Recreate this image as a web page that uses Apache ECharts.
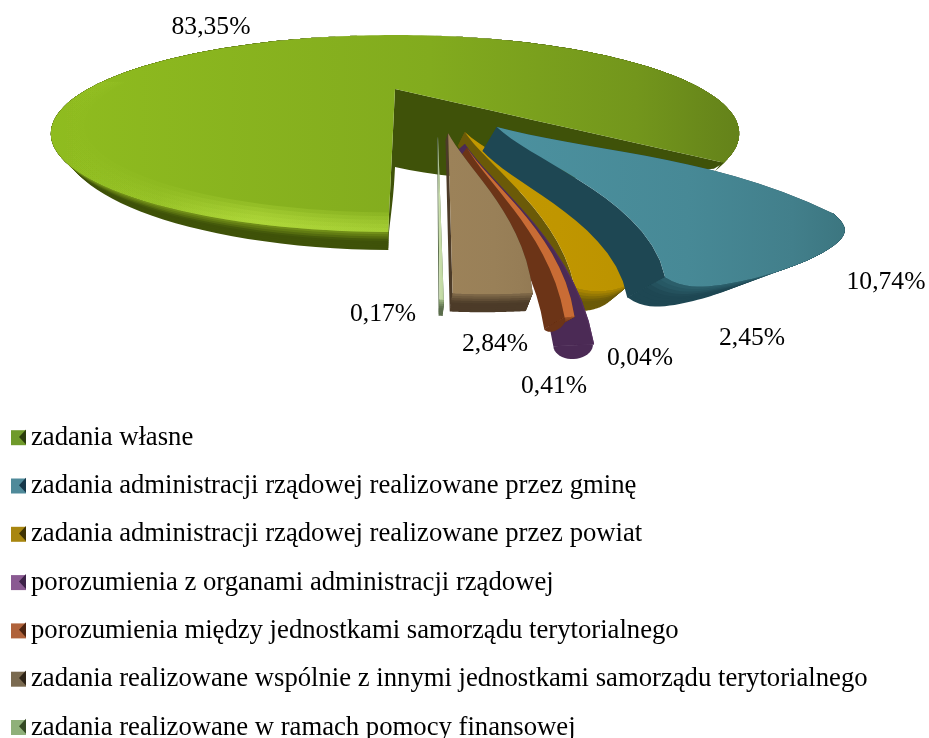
<!DOCTYPE html>
<html>
<head>
<meta charset="utf-8">
<style>
  html, body { margin: 0; background: #fff; }
  #chart { width: 929px; height: 738px; }
</style>
<script src="https://cdn.jsdelivr.net/npm/echarts@6/dist/echarts.min.js"></script>
</head>
<body>
<div id="chart"></div>
<script>
const categories = [
  "zadania własne",
  "zadania administracji rządowej realizowane przez gminę",
  "zadania administracji rządowej realizowane przez powiat",
  "porozumienia z organami administracji rządowej",
  "porozumienia między jednostkami samorządu terytorialnego",
  "zadania realizowane wspólnie z innymi jednostkami samorządu terytorialnego",
  "zadania realizowane w ramach pomocy finansowej"
];
const values = [83.35, 10.74, 2.45, 0.04, 0.41, 2.84, 0.17];

// wygląd plasterków (wolno zmieniać, dane są wyżej)
const faceLeft = ["#8fbc1f", "#4c919f", "#c29800", "#55305f", "#c96c35", "#9c8259", "#cbe0ac"];
const faceRight = ["#64821a", "#3c7680", "#bb9200", "#55305f", "#c96c35", "#937a54", "#b6cf98"];
const wallColors = ["#3f5209", "#1e4753", "#6b5a08", "#4b2a55", "#6c3417", "#4c3b28", "#5b6d4c"];
const rimTop = ["#7f9f1c", "#2f6571", "#b89000", "#4b2a55", "#a8582a", "#8a7350", "#a9c28c"];
const legendFace = ["#6f9a2a", "#4f8a9a", "#a8860f", "#8a5a92", "#b0623a", "#7a6a50", "#8fb07a"];
const legendDark = ["#2b3d0c", "#16384a", "#3f3304", "#3d2248", "#4d2410", "#2e2418", "#344a24"];

// przesunięcie plasterka, promień, grubość, pochylenie ścian, zaokrąglenie rogów
const sliceShape = [
  { ox: 0, oy: 0, r: 1, h0: 78, h1: 6, rim: 18, lean: 0.03, round: 0, endTurn: 0, bow: 0, capK: 0 },
  { ox: 0.272, oy: 0.397, r: 0.81, h0: 24, h1: 20, rim: 20, lean: 0.14, round: 0.05, endTurn: -4, bow: 11, capK: 0 },
  { ox: 0.182, oy: 0.44, r: 0.77, h0: 14, h1: 20, rim: 20, lean: 0.1, round: 0.03, endTurn: 0, bow: 8, capK: 0 },
  { ox: 0.173, oy: 0.532, r: 0.79, h0: 12, h1: 2, rim: 2, lean: 0.2, round: 0, endTurn: 0, bow: 8, capK: 0.7 },
  { ox: 0.175, oy: 0.56, r: 0.7, h0: 12, h1: 12, rim: 12, lean: 0.12, round: 0, endTurn: 0, bow: 8, capK: 0.6 },
  { ox: 0.138, oy: 0.449, r: 0.75, h0: 8, h1: 18, rim: 18, lean: 0.05, round: 0, endTurn: -1, bow: 8, capK: 0 },
  { ox: 0.11, oy: 0.475, r: 0.74, h0: 4, h1: 16, rim: 16, lean: 0.02, round: 0, endTurn: 0, bow: 8, capK: 0 }
];
const labelPos = [[211, 27], [886, 282], [752, 338], [640, 358], [554, 386], [495, 344], [383, 314]];
const drawOrder = [0, 2, 1, 3, 4, 5, 6];

const cx = 395, cy = 89, rx = 307, ry = 78.4, persp = 0.452;
const startAngle = -0.7;
const wedgeScale = 0.8, wedgeShift = -2.9, mainScale = 1.035;
const legendTop = 437, legendStep = 48.2;

const rad = d => d * Math.PI / 180;

function project(u, v) {
  const d = 1 - persp * v;
  return [cx + rx * u / d, cy + ry * v / d];
}

function lerpColor(a, b, t) {
  const pa = parseInt(a.slice(1), 16), pb = parseInt(b.slice(1), 16);
  const c = s => Math.round(((pa >> s) & 255) * (1 - t) + ((pb >> s) & 255) * t);
  return "rgb(" + c(16) + "," + c(8) + "," + c(0) + ")";
}

function sliceAngles(i) {
  let before = 0;
  for (let k = 0; k < i; k++) before += values[k];
  const a = before * 3.6, b = (before + values[i]) * 3.6;
  if (i === 0) return [startAngle - a * mainScale, startAngle - b * mainScale];
  const warp = x => (360 + startAngle - x) * wedgeScale + wedgeShift;
  return [warp(a), warp(b) + sliceShape[i].endTurn];
}

function point(i, f, th) {
  const s = sliceShape[i];
  const shape = Math.max(0, Math.min(1, th / 12));
  const ang = th + s.bow * 4 * f * (1 - f) * shape;
  return project(s.ox + s.r * f * Math.sin(rad(ang)), s.oy + s.r * f * Math.cos(rad(ang)));
}

function dropEdge(i, p, f) {
  const s = sliceShape[i];
  return [p[0] + (cx - p[0]) * s.lean, p[1] + s.h0 + (s.h1 - s.h0) * f * f];
}

function dropArc(i, p, h, t) {
  return [p[0] + (cx - p[0]) * sliceShape[i].lean * t, p[1] + h * t];
}

function makeSlice(i) {
  const [thA, thB] = sliceAngles(i);
  const s = sliceShape[i];
  const children = [];
  const nArc = i === 0 ? 160 : 48;
  const nEdge = 16;
  // łuk lekko cofnięty przy końcach, żeby rogi były zaokrąglone
  const arcF = th => 1 - s.round * (Math.exp(-Math.abs(th - thA) / 2) + Math.exp(-Math.abs(th - thB) / 2));
  const edge = th => {
    const top = [], bottom = [];
    for (let k = 0; k <= nEdge; k++) {
      const f = k / nEdge * arcF(th);
      const p = point(i, f, th);
      top.push(p);
      bottom.unshift(dropEdge(i, p, f));
    }
    return top.concat(bottom);
  };
  children.push({ type: "polygon", shape: { points: edge(thA) }, style: { fill: wallColors[i] } });
  children.push({ type: "polygon", shape: { points: edge(thB) }, style: { fill: wallColors[i] } });

  // ściana wzdłuż łuku, od jasnego do ciemnego
  const arc = [], arcH = [];
  for (let k = 0; k <= nArc; k++) {
    const th = thA + (thB - thA) * k / nArc;
    arc.push(point(i, arcF(th), th));
    // duży plaster: z boku i z tyłu ściany prawie nie widać
    arcH.push(i === 0 ? s.rim * Math.pow(Math.max(0, Math.cos(rad(th))), 1.5) : s.rim);
  }
  const strips = 8;
  for (let n = strips - 1; n >= 0; n--) {
    const t1 = (n + 1) / strips;
    // każdy pasek sięga aż do łuku, kolejne przykrywają poprzednie
    const pts = arc.concat(arc.map((p, k) => dropArc(i, p, arcH[k], t1)).reverse());
    children.push({
      type: "polygon",
      shape: { points: pts },
      style: { fill: lerpColor(rimTop[i], wallColors[i], Math.min(1, t1 * 1.8)) }
    });
  }

  // zaokrąglony koniec wąskich plasterków
  if (s.capK) {
    const a = arc[nArc], b = dropArc(i, a, arcH[nArc], 1);
    const mx = (a[0] + b[0]) / 2, my = (a[1] + b[1]) / 2;
    const ax = a[0] - mx, ay = a[1] - my;
    const pts = [];
    for (let k = 0; k <= 20; k++) {
      const q = Math.PI * k / 20;
      pts.push([mx + ax * Math.cos(q) - ay * s.capK * Math.sin(q), my + ay * Math.cos(q) + ax * s.capK * Math.sin(q)]);
    }
    children.push({ type: "polygon", shape: { points: pts }, style: { fill: wallColors[i] } });
  }

  // wierzch
  const face = [];
  for (let k = 0; k <= nEdge; k++) face.push(point(i, k / nEdge * arcF(thA), thA));
  face.push(...arc);
  for (let k = nEdge; k >= 0; k--) face.push(point(i, k / nEdge * arcF(thB), thB));
  children.push({
    type: "polygon",
    shape: { points: face },
    style: {
      fill: new echarts.graphic.LinearGradient(0, 0, 1, 0, [
        { offset: 0, color: faceLeft[i] },
        { offset: 0.55, color: lerpColor(faceLeft[i], faceRight[i], 0.3) },
        { offset: 0.85, color: lerpColor(faceLeft[i], faceRight[i], 0.65) },
        { offset: 1, color: faceRight[i] }
      ])
    }
  });

  // jasna krawędź z przodu dużego plastra
  if (i === 0) {
    for (let band = 0; band < 5; band++) {
      const f0 = 0.92 + band * 0.016;
      const alpha = 0.25;
      const pts = [];
      for (let k = 0; k <= 60; k++) pts.push(point(i, 1, thA - 95 * k / 60));
      for (let k = 60; k >= 0; k--) pts.push(point(i, f0, thA - 95 * k / 60));
      const glow = a => "rgba(184,224,64," + a + ")";
      children.push({
        type: "polygon",
        shape: { points: pts },
        style: {
          fill: new echarts.graphic.LinearGradient(60, 0, 390, 0, [
            { offset: 0, color: glow(0) },
            { offset: 0.3, color: glow(alpha * 0.25) },
            { offset: 0.6, color: glow(alpha) },
            { offset: 1, color: glow(alpha * 0.7) }
          ], true)
        }
      });
    }
  }

  children.push({
    type: "text",
    style: {
      text: values[i].toFixed(2).replace(".", ",") + "%",
      x: labelPos[i][0],
      y: labelPos[i][1],
      fill: "#000",
      font: '25.6px "Liberation Serif"',
      textAlign: "center",
      textVerticalAlign: "middle"
    }
  });
  return { type: "group", children };
}

const chart = echarts.init(document.getElementById("chart"));

const option = {
  animation: false,
  backgroundColor: "#fff",
  legend: {
    orient: "vertical",
    left: 6,
    top: legendTop - 17.8,
    height: 400,
    itemWidth: 15,
    itemHeight: 15,
    itemGap: 21.3,
    icon: "rect",
    selectedMode: false,
    textStyle: { fontFamily: "Liberation Serif", fontSize: 26.7, color: "#000", lineHeight: 24 },
    data: categories.map((name, i) => ({ name, itemStyle: { color: legendFace[i] } }))
  },
  // ciemny trójkąt w znaczkach legendy
  graphic: categories.map((name, i) => {
    const y = legendTop + legendStep * i;
    return {
      type: "polygon",
      z: 20,
      shape: { points: [[26, y - 7.5], [26, y + 7.5], [19, y]] },
      style: { fill: legendDark[i] }
    };
  }),
  series: drawOrder.map(i => ({
    type: "custom",
    name: categories[i],
    coordinateSystem: "none",
    silent: true,
    itemStyle: { color: legendFace[i] },
    data: [values[i]],
    renderItem: () => makeSlice(i)
  }))
};

chart.setOption(option);
</script>
</body>
</html>
